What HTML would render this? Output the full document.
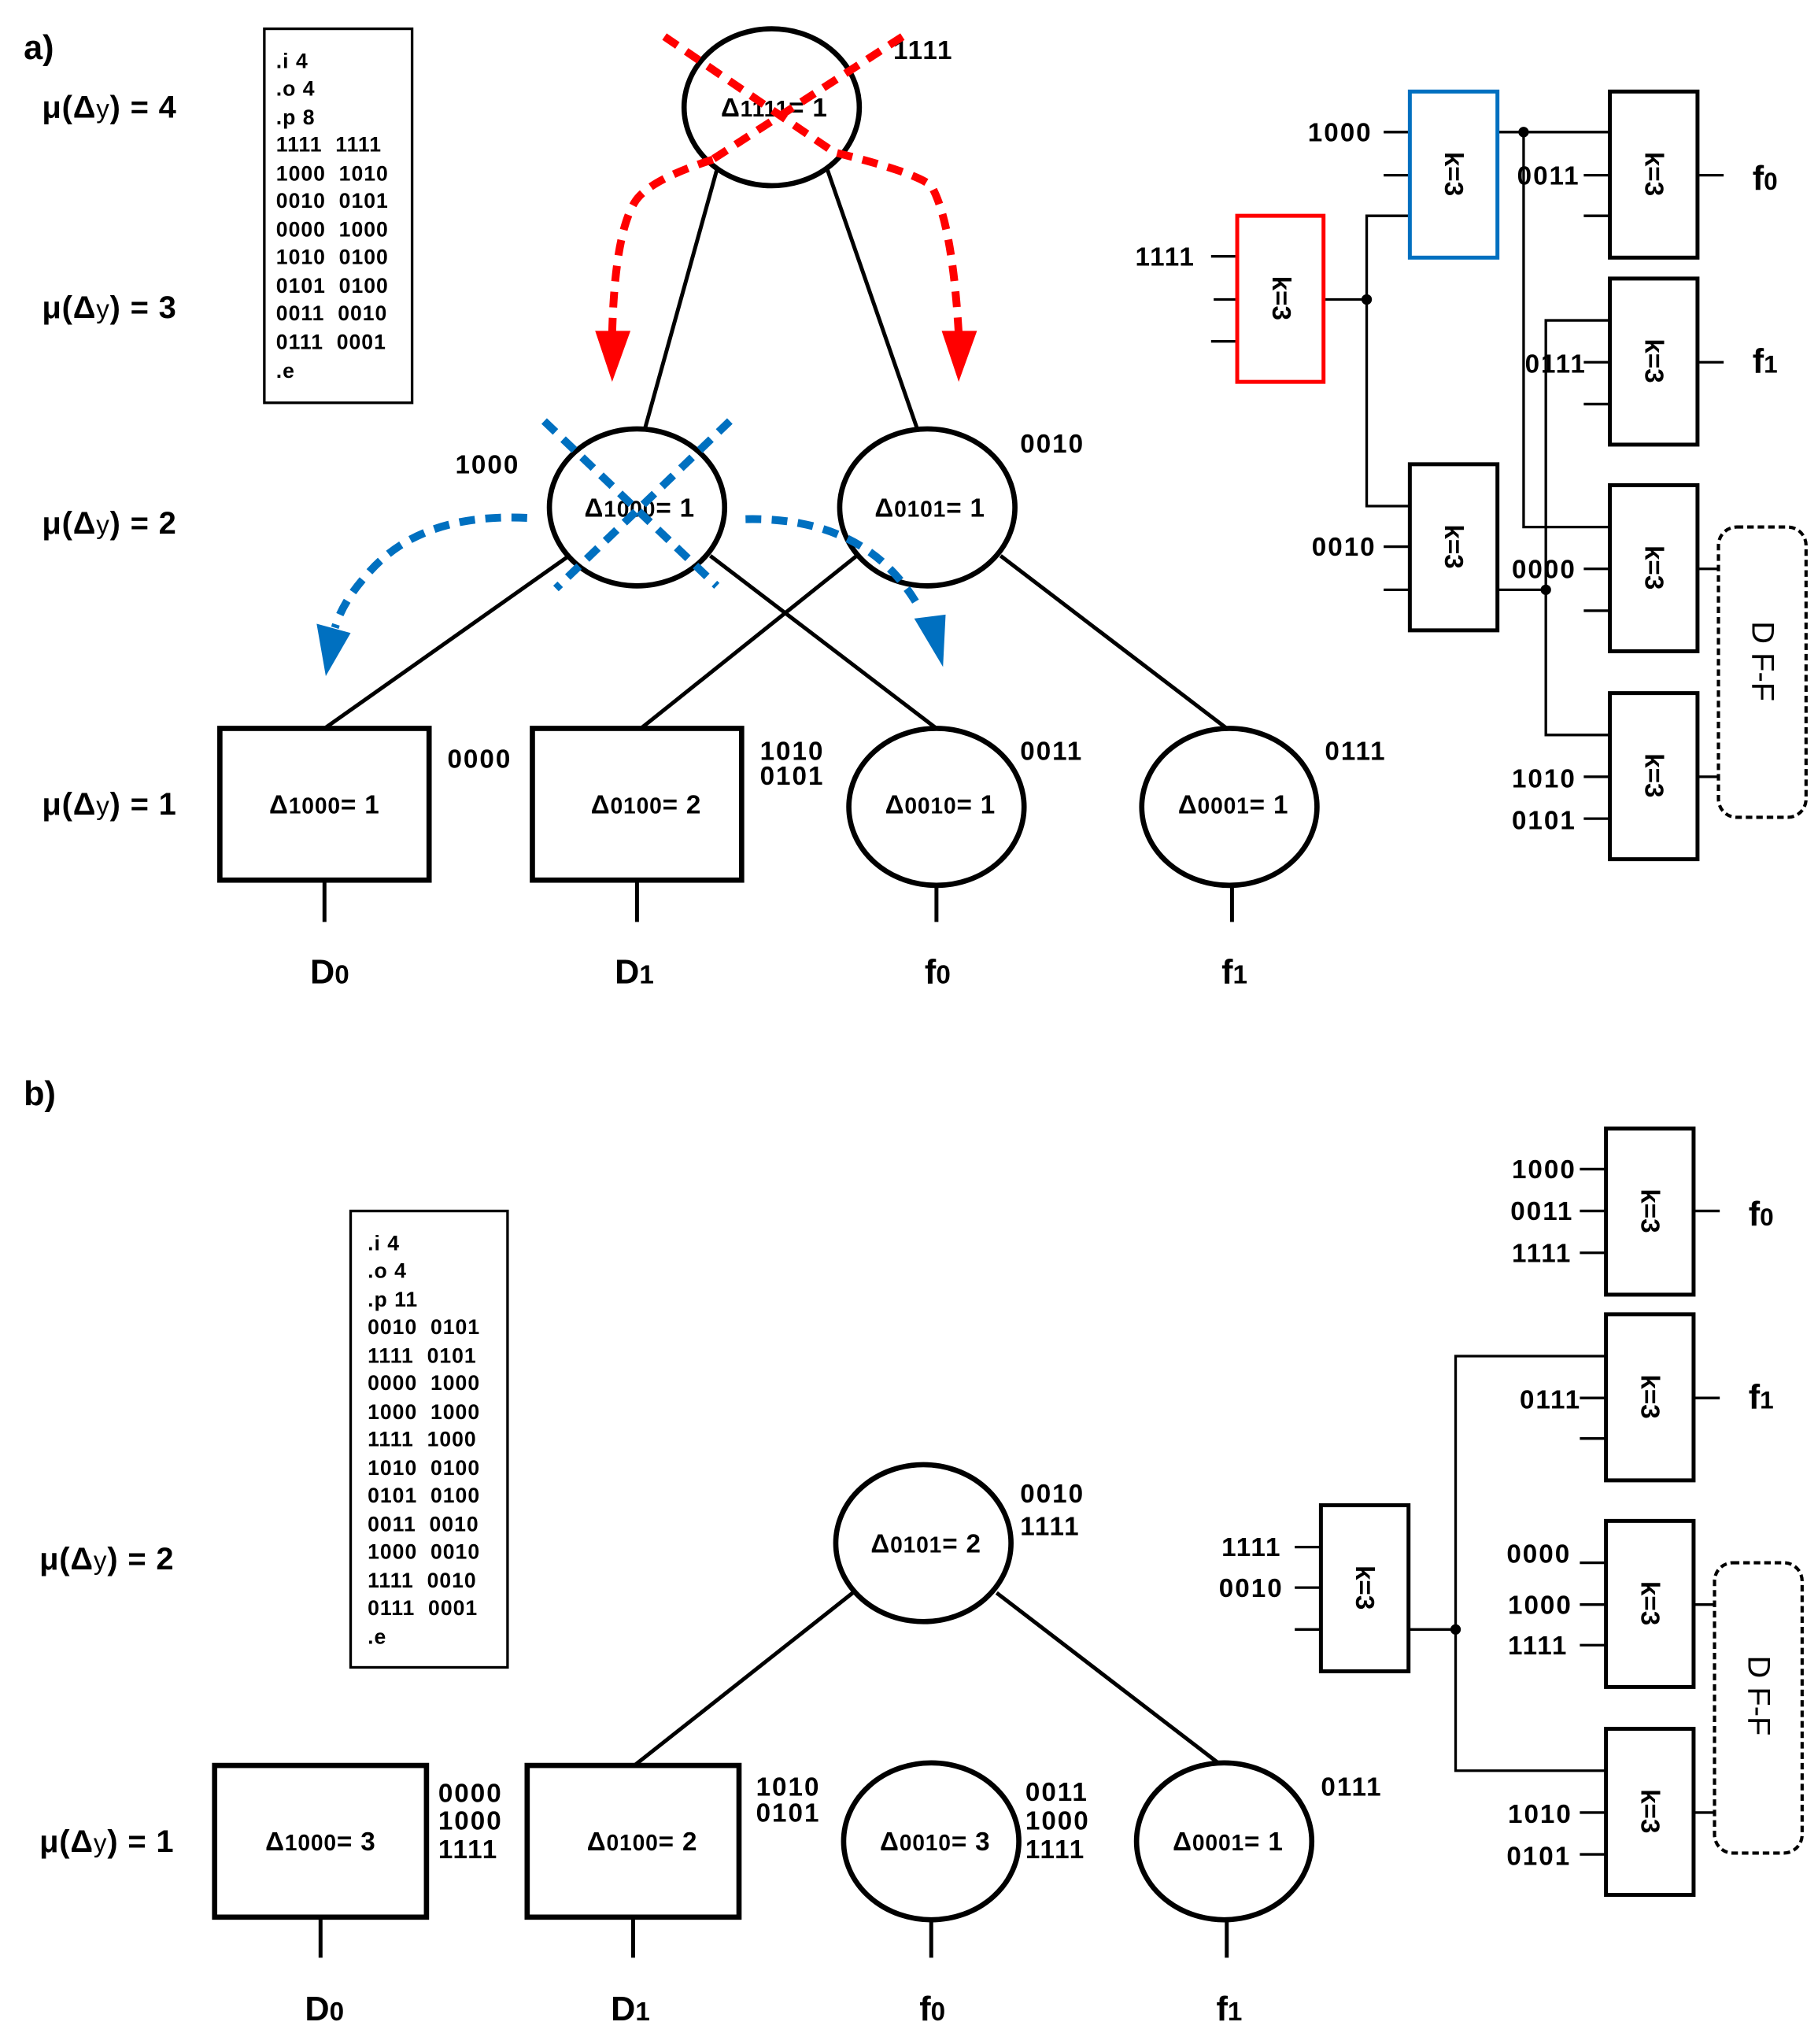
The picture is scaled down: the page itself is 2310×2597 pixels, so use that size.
<!DOCTYPE html>
<html><head><meta charset="utf-8"><style>
html,body{margin:0;padding:0;background:#fff}
svg{display:block}
text{font-family:"Liberation Sans",Arial,sans-serif;font-weight:bold;fill:#000;white-space:pre}
.mu{font-size:24px;letter-spacing:0.5px}
.lbl{font-size:20px;letter-spacing:1.2px}
.cod{font-size:16px;letter-spacing:0.6px}
.nd{font-size:20px;letter-spacing:0.5px}
.out{font-size:26px}
.k{font-size:20px}
</style></head><body>
<svg width="2310" height="2597" viewBox="0 0 1390 1563" xmlns="http://www.w3.org/2000/svg" xml:space="preserve">
<defs>
<g id="kbox"><rect x="0" y="0" width="67" height="127" fill="#fff" stroke="#000" stroke-width="3"/><text class="k" transform="translate(27,63) rotate(90)" text-anchor="middle">k=3</text></g>
</defs>
<!-- ===== PART A ===== -->
<text x="18" y="45" style="font-size:26px">a)</text>
<text class="mu" x="32" y="90">μ(Δ<tspan font-weight="normal" font-size="20">y</tspan>) = 4</text>
<text class="mu" x="32" y="243">μ(Δ<tspan font-weight="normal" font-size="20">y</tspan>) = 3</text>
<text class="mu" x="32" y="408">μ(Δ<tspan font-weight="normal" font-size="20">y</tspan>) = 2</text>
<text class="mu" x="32" y="623">μ(Δ<tspan font-weight="normal" font-size="20">y</tspan>) = 1</text>
<rect x="202" y="22" width="113" height="286" fill="none" stroke="#000" stroke-width="2"/>
<g class="cod"><text x="211" y="52" font-weight="normal">.i 4</text><text x="211" y="73" font-weight="normal">.o 4</text><text x="211" y="95" font-weight="normal">.p 8</text>
<text x="211" y="116">1111  1111</text><text x="211" y="138">1000  1010</text><text x="211" y="159">0010  0101</text><text x="211" y="181">0000  1000</text><text x="211" y="202">1010  0100</text><text x="211" y="224">0101  0100</text><text x="211" y="245">0011  0010</text><text x="211" y="267">0111  0001</text><text x="211" y="289" font-weight="normal">.e</text></g>
<g stroke="#000" stroke-width="3" fill="none">
<line x1="548" y1="130" x2="493" y2="328"/><line x1="632" y1="128" x2="702" y2="330"/>
<line x1="435" y1="425" x2="248" y2="557"/><line x1="543" y1="425" x2="716" y2="557"/>
<line x1="655" y1="425" x2="490" y2="557"/><line x1="765" y1="425" x2="938" y2="557"/>
<line x1="248" y1="673" x2="248" y2="705"/><line x1="487" y1="673" x2="487" y2="705"/>
<line x1="716" y1="677" x2="716" y2="705"/><line x1="942" y1="677" x2="942" y2="705"/>
</g>
<g fill="#fff" stroke="#000" stroke-width="4">
<ellipse cx="590" cy="82" rx="67" ry="60"/>
<ellipse cx="487" cy="388" rx="67" ry="60"/>
<ellipse cx="709" cy="388" rx="67" ry="60"/>
<rect x="168" y="557" width="160" height="116"/>
<rect x="407" y="557" width="160" height="116"/>
<ellipse cx="716" cy="617" rx="67" ry="60"/>
<ellipse cx="940" cy="617" rx="67" ry="60"/>
</g>
<g class="nd" text-anchor="middle">
<text x="592" y="89">Δ<tspan font-size="17">1111</tspan>= 1</text>
<text x="489" y="395">Δ<tspan font-size="17">1000</tspan>= 1</text>
<text x="711" y="395">Δ<tspan font-size="17">0101</tspan>= 1</text>
<text x="248" y="622">Δ<tspan font-size="17">1000</tspan>= 1</text>
<text x="494" y="622">Δ<tspan font-size="17">0100</tspan>= 2</text>
<text x="719" y="622">Δ<tspan font-size="17">0010</tspan>= 1</text>
<text x="943" y="622">Δ<tspan font-size="17">0001</tspan>= 1</text>
</g>
<g class="lbl">
<text x="683" y="45">1111</text><text x="348" y="362">1000</text><text x="780" y="346">0010</text>
<text x="342" y="587">0000</text><text x="581" y="581">1010</text><text x="581" y="600">0101</text>
<text x="780" y="581">0011</text><text x="1013" y="581">0111</text>
</g>
<g class="out"><text x="237" y="752">D<tspan font-size="20">0</tspan></text><text x="470" y="752">D<tspan font-size="20">1</tspan></text><text x="707" y="752">f<tspan font-size="20">0</tspan></text><text x="934" y="752">f<tspan font-size="20">1</tspan></text></g>
<g stroke="#f00" stroke-width="6" stroke-dasharray="12,8" fill="none">
<line x1="508" y1="28" x2="640" y2="118"/><line x1="690" y1="28" x2="540" y2="125"/>
<path d="M545,122 Q495,138 485,155 Q470,180 468,255"/>
<path d="M640,117 Q700,132 712,142 Q728,170 733,255"/>
</g>
<polygon points="455,253 482,253 468,292" fill="#f00"/>
<polygon points="720,253 747,253 733,292" fill="#f00"/>
<g stroke="#0070c0" stroke-width="6" stroke-dasharray="12,8" fill="none">
<line x1="416" y1="322" x2="548" y2="448"/><line x1="558" y1="322" x2="425" y2="450"/>
<path d="M403,396 Q320,392 280,440 Q262,460 256,480"/>
<path d="M570,397 Q660,395 700,460"/>
</g>
<polygon points="242,477 268,484 249,517" fill="#0070c0"/>
<polygon points="699,473 723,470 721,510" fill="#0070c0"/>
<!-- circuit a -->
<g stroke="#000" stroke-width="2" fill="none">
<line x1="926" y1="196" x2="946" y2="196"/><line x1="928" y1="229" x2="946" y2="229"/><line x1="926" y1="261" x2="946" y2="261"/>
<polyline points="1012,229 1045,229"/><polyline points="1078,165 1045,165 1045,387 1078,387"/>
<line x1="1058" y1="101" x2="1078" y2="101"/><line x1="1058" y1="134" x2="1078" y2="134"/>
<line x1="1058" y1="418" x2="1078" y2="418"/><line x1="1058" y1="451" x2="1078" y2="451"/>
<polyline points="1145,101 1231,101"/><polyline points="1165,101 1165,403 1231,403"/>
<polyline points="1145,451 1182,451"/><polyline points="1231,245 1182,245 1182,562 1231,562"/>
<line x1="1211" y1="134" x2="1231" y2="134"/><line x1="1211" y1="165" x2="1231" y2="165"/>
<line x1="1211" y1="277" x2="1231" y2="277"/><line x1="1211" y1="309" x2="1231" y2="309"/>
<line x1="1211" y1="435" x2="1231" y2="435"/><line x1="1211" y1="467" x2="1231" y2="467"/>
<line x1="1211" y1="594" x2="1231" y2="594"/><line x1="1211" y1="626" x2="1231" y2="626"/>
<line x1="1298" y1="134" x2="1318" y2="134"/><line x1="1298" y1="277" x2="1318" y2="277"/>
<line x1="1298" y1="435" x2="1314" y2="435"/><line x1="1298" y1="594" x2="1314" y2="594"/>
</g>
<g fill="#000"><circle cx="1045" cy="229" r="4"/><circle cx="1165" cy="101" r="4"/><circle cx="1182" cy="451" r="4"/></g>
<g transform="translate(946,165)"><rect width="66" height="127" fill="#fff" stroke="#f00" stroke-width="3"/><text class="k" transform="translate(27,63) rotate(90)" text-anchor="middle">k=3</text></g>
<g transform="translate(1078,70)"><rect width="67" height="127" fill="#fff" stroke="#0070c0" stroke-width="3"/><text class="k" transform="translate(27,63) rotate(90)" text-anchor="middle">k=3</text></g>
<use href="#kbox" x="1078" y="355"/>
<use href="#kbox" x="1231" y="70"/><use href="#kbox" x="1231" y="213"/><use href="#kbox" x="1231" y="371"/><use href="#kbox" x="1231" y="530"/>
<rect x="1314" y="403" width="67" height="222" rx="14" fill="none" stroke="#000" stroke-width="2.5" stroke-dasharray="5,3"/>
<text transform="translate(1340,475) rotate(90)" style="font-size:24px;font-weight:normal">D F-F</text>
<g class="lbl">
<text x="868" y="203">1111</text><text x="1000" y="108">1000</text><text x="1160" y="141">0011</text>
<text x="1166" y="285">0111</text><text x="1003" y="425">0010</text><text x="1156" y="442">0000</text>
<text x="1156" y="602">1010</text><text x="1156" y="634">0101</text>
</g>
<g class="out"><text x="1340" y="145">f<tspan font-size="19">0</tspan></text><text x="1340" y="285">f<tspan font-size="19">1</tspan></text></g>
<!-- ===== PART B ===== -->
<text x="18" y="845" style="font-size:26px">b)</text>
<text class="mu" x="30" y="1200">μ(Δ<tspan font-weight="normal" font-size="20">y</tspan>) = 2</text>
<text class="mu" x="30" y="1416">μ(Δ<tspan font-weight="normal" font-size="20">y</tspan>) = 1</text>
<rect x="268" y="926" width="120" height="349" fill="none" stroke="#000" stroke-width="2"/>
<g class="cod"><text x="281" y="956" font-weight="normal">.i 4</text><text x="281" y="977" font-weight="normal">.o 4</text><text x="281" y="999" font-weight="normal">.p 11</text>
<text x="281" y="1020">0010  0101</text><text x="281" y="1042">1111  0101</text><text x="281" y="1063">0000  1000</text><text x="281" y="1085">1000  1000</text><text x="281" y="1106">1111  1000</text><text x="281" y="1128">1010  0100</text><text x="281" y="1149">0101  0100</text><text x="281" y="1171">0011  0010</text><text x="281" y="1192">1000  0010</text><text x="281" y="1214">1111  0010</text><text x="281" y="1235">0111  0001</text><text x="281" y="1257" font-weight="normal">.e</text></g>
<g stroke="#000" stroke-width="3" fill="none">
<line x1="652" y1="1218" x2="485" y2="1350"/><line x1="762" y1="1218" x2="934" y2="1350"/>
<line x1="245" y1="1466" x2="245" y2="1497"/><line x1="484" y1="1466" x2="484" y2="1497"/>
<line x1="712" y1="1468" x2="712" y2="1497"/><line x1="938" y1="1468" x2="938" y2="1497"/>
</g>
<g fill="#fff" stroke="#000" stroke-width="4">
<ellipse cx="706" cy="1180" rx="67" ry="60"/>
<rect x="164" y="1350" width="162" height="116"/>
<rect x="403" y="1350" width="162" height="116"/>
<ellipse cx="712" cy="1408" rx="67" ry="60"/>
<ellipse cx="936" cy="1408" rx="67" ry="60"/>
</g>
<g class="nd" text-anchor="middle">
<text x="708" y="1187">Δ<tspan font-size="17">0101</tspan>= 2</text>
<text x="245" y="1415">Δ<tspan font-size="17">1000</tspan>= 3</text>
<text x="491" y="1415">Δ<tspan font-size="17">0100</tspan>= 2</text>
<text x="715" y="1415">Δ<tspan font-size="17">0010</tspan>= 3</text>
<text x="939" y="1415">Δ<tspan font-size="17">0001</tspan>= 1</text>
</g>
<g class="lbl">
<text x="780" y="1149">0010</text><text x="780" y="1174">1111</text>
<text x="335" y="1378">0000</text><text x="335" y="1399">1000</text><text x="335" y="1421">1111</text>
<text x="578" y="1373">1010</text><text x="578" y="1393">0101</text>
<text x="784" y="1377">0011</text><text x="784" y="1399">1000</text><text x="784" y="1421">1111</text>
<text x="1010" y="1373">0111</text>
</g>
<g class="out"><text x="233" y="1545">D<tspan font-size="20">0</tspan></text><text x="467" y="1545">D<tspan font-size="20">1</tspan></text><text x="703" y="1545">f<tspan font-size="20">0</tspan></text><text x="930" y="1545">f<tspan font-size="20">1</tspan></text></g>
<g stroke="#000" stroke-width="2" fill="none">
<line x1="990" y1="1183" x2="1010" y2="1183"/><line x1="990" y1="1214" x2="1010" y2="1214"/><line x1="990" y1="1246" x2="1010" y2="1246"/>
<line x1="1076" y1="1246" x2="1113" y2="1246"/>
<polyline points="1228,1037 1113,1037 1113,1354 1228,1354"/>
<line x1="1208" y1="894" x2="1228" y2="894"/><line x1="1208" y1="926" x2="1228" y2="926"/><line x1="1208" y1="958" x2="1228" y2="958"/>
<line x1="1208" y1="1069" x2="1228" y2="1069"/><line x1="1208" y1="1100" x2="1228" y2="1100"/>
<line x1="1208" y1="1195" x2="1228" y2="1195"/><line x1="1208" y1="1227" x2="1228" y2="1227"/><line x1="1208" y1="1258" x2="1228" y2="1258"/>
<line x1="1208" y1="1386" x2="1228" y2="1386"/><line x1="1208" y1="1418" x2="1228" y2="1418"/>
<line x1="1295" y1="926" x2="1315" y2="926"/><line x1="1295" y1="1069" x2="1315" y2="1069"/>
<line x1="1295" y1="1227" x2="1311" y2="1227"/><line x1="1295" y1="1386" x2="1311" y2="1386"/>
</g>
<circle cx="1113" cy="1246" r="4" fill="#000"/>
<use href="#kbox" x="1010" y="1151"/>
<use href="#kbox" x="1228" y="863"/><use href="#kbox" x="1228" y="1005"/><use href="#kbox" x="1228" y="1163"/><use href="#kbox" x="1228" y="1322"/>
<rect x="1311" y="1195" width="67" height="222" rx="14" fill="none" stroke="#000" stroke-width="2.5" stroke-dasharray="5,3"/>
<text transform="translate(1337,1266) rotate(90)" style="font-size:24px;font-weight:normal">D F-F</text>
<g class="lbl">
<text x="934" y="1190">1111</text><text x="932" y="1221">0010</text>
<text x="1156" y="901">1000</text><text x="1155" y="933">0011</text><text x="1156" y="965">1111</text>
<text x="1162" y="1077">0111</text>
<text x="1152" y="1195">0000</text><text x="1153" y="1234">1000</text><text x="1153" y="1265">1111</text>
<text x="1153" y="1394">1010</text><text x="1152" y="1426">0101</text>
</g>
<g class="out"><text x="1337" y="937">f<tspan font-size="19">0</tspan></text><text x="1337" y="1077">f<tspan font-size="19">1</tspan></text></g>
</svg>
</body></html>
